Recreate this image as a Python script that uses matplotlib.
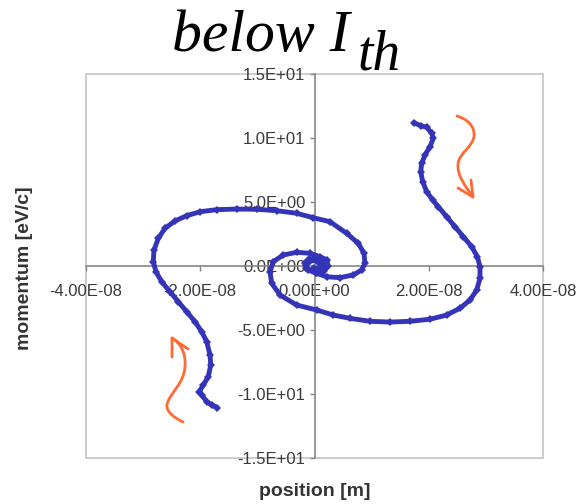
import matplotlib
matplotlib.use("Agg")
import matplotlib.pyplot as plt
from matplotlib.path import Path
from matplotlib.patches import PathPatch, Rectangle
from matplotlib.lines import Line2D

# ---------------- data ----------------
x_unit = 1e-8  # positions below are in units of 1e-8 m

arm1_x = [1.742, 1.859, 1.964, 2.052, 2.080, 2.022, 1.934, 1.877, 1.859, 1.894,
          1.964, 2.069, 2.167, 2.314, 2.459, 2.605, 2.752, 2.850, 2.897, 2.897,
          2.839, 2.722, 2.547, 2.314, 2.022, 1.672, 1.322, 0.972, 0.621, 0.329,
          0.039, -0.312, -0.604, -0.749, -0.779, -0.721, -0.546, -0.312, -0.079, 0.096,
          0.219, 0.236, 0.166, 0.026, -0.114, -0.149, -0.079, 0.026, 0.096]
arm1_y = [11.20, 10.96, 10.84, 10.37, 9.98, 9.32, 8.67, 8.02, 7.37, 6.59,
          5.80, 5.16, 4.63, 3.85, 3.07, 2.29, 1.51, 0.73, -0.05, -0.96,
          -1.88, -2.66, -3.30, -3.83, -4.16, -4.32, -4.38, -4.32, -4.09, -3.83,
          -3.44, -3.05, -2.27, -1.35, -0.45, 0.34, 0.86, 1.07, 0.99, 0.73,
          0.47, 0.00, -0.39, -0.55, -0.31, 0.08, 0.39, 0.43, 0.16]

arm2_x = [-1.701, -1.800, -1.887, -1.975, -2.017, -1.947, -1.859, -1.817, -1.829, -1.887,
          -1.975, -2.092, -2.237, -2.384, -2.530, -2.675, -2.775, -2.822, -2.810, -2.734,
          -2.617, -2.442, -2.237, -2.004, -1.712, -1.362, -1.012, -0.662, -0.312, -0.021,
          0.271, 0.564, 0.767, 0.866, 0.884, 0.826, 0.679, 0.446, 0.214, 0.039,
          -0.149, -0.166, -0.096, 0.026, 0.149, 0.184, 0.096, -0.009]
arm2_y = [-11.07, -10.86, -10.60, -10.08, -9.82, -9.30, -8.65, -7.73, -6.95, -5.91,
          -5.13, -4.35, -3.57, -2.79, -2.01, -1.23, -0.45, 0.34, 1.25, 2.16,
          2.95, 3.52, 3.93, 4.24, 4.40, 4.45, 4.43, 4.32, 4.12, 3.77,
          3.46, 2.55, 1.77, 0.99, 0.21, -0.31, -0.70, -0.91, -0.84, -0.57,
          -0.16, 0.23, 0.55, 0.63, 0.39, 0.00, -0.23, -0.16]

x_ticks = [-4e-8, -2e-8, 0.0, 2e-8, 4e-8]
x_tick_labels = ["-4.00E-08", "-2.00E-08", "0.00E+00", "2.00E-08", "4.00E-08"]
y_ticks = [-15, -10, -5, 0, 5, 10, 15]
y_tick_labels = ["-1.5E+01", "-1.0E+01", "-5.0E+00", "0.0E+00", "5.0E+00", "1.0E+01", "1.5E+01"]

title_main = "below I"
title_sub = "th"
x_label = "position [m]"
y_label = "momentum [eV/c]"

# ---------------- figure ----------------
W, H = 587, 504
plt.rcParams["font.family"] = ["Liberation Sans", "DejaVu Sans"]
fig = plt.figure(figsize=(W / 100, H / 100), dpi=100)
fig.patch.set_facecolor("white")

def fx(px):
    return px / W

def fy(py):
    return 1 - py / H

ax = fig.add_axes([fx(86), fy(458), (543 - 86) / W, (458 - 74) / H])
ax.set_xlim(-4e-8, 4e-8)
ax.set_ylim(-15, 15)
ax.set_facecolor("white")

axis_col = "#868686"
for s in ["top", "right"]:
    ax.spines[s].set_visible(False)
ax.spines["left"].set_position("zero")
ax.spines["bottom"].set_position("zero")
for s in ["left", "bottom"]:
    ax.spines[s].set_color(axis_col)
    ax.spines[s].set_linewidth(1.2)

ax.add_patch(Rectangle((0, 0), 1, 1, transform=ax.transAxes, fill=False,
                       edgecolor="#c4c4c4", linewidth=1.2, clip_on=False, zorder=0.5))

ax.set_xticks(x_ticks)
ax.set_xticklabels(x_tick_labels)
ax.set_yticks(y_ticks)
ax.set_yticklabels(y_tick_labels)
ax.tick_params(axis="x", direction="out", length=3.6, width=1.0, color=axis_col,
               labelsize=12, labelcolor="#3a3a3a", pad=9)
ax.tick_params(axis="y", direction="out", length=3.6, width=1.0, color=axis_col,
               labelsize=12, labelcolor="#3a3a3a", pad=3)

blue = "#3434b8"
for xs, ys in [(arm1_x, arm1_y), (arm2_x, arm2_y)]:
    ax.plot([v * x_unit for v in xs], ys, color=blue, lw=3.5, marker="D",
            markersize=4.5, markeredgewidth=0, solid_joinstyle="round",
            solid_capstyle="round", zorder=3, clip_on=False)

# axis labels
fig.text(fx(25), fy(268), y_label, rotation=90, fontsize=14, fontweight="bold",
         ha="center", va="center", color="#333333")
fig.text(fx(315), fy(492), x_label, fontsize=14, fontweight="bold",
         ha="center", va="center", color="#333333")

# title
fig.text(fx(172), fy(51), title_main, fontsize=43, family="Liberation Serif",
         style="italic", ha="left", va="baseline", color="black")
fig.text(fx(358), fy(69), title_sub, fontsize=40, family="Liberation Serif",
         style="italic", ha="left", va="baseline", color="black")

# orange wavy arrows (decorations, in figure pixel space)
orange = "#ff6a33"

def draw_curve(segments, head):
    verts = [(fx(segments[0][0]), fy(segments[0][1]))]
    codes = [Path.MOVETO]
    for c1, c2, p in segments[1:]:
        for q in (c1, c2, p):
            verts.append((fx(q[0]), fy(q[1])))
            codes.append(Path.CURVE4)
    fig.add_artist(PathPatch(Path(verts, codes), transform=fig.transFigure,
                             fill=False, edgecolor=orange, lw=2.0, capstyle="round"))
    fig.add_artist(Line2D([fx(p[0]) for p in head], [fy(p[1]) for p in head],
                          transform=fig.transFigure, color=orange, lw=2.0,
                          solid_capstyle="round", solid_joinstyle="round"))

draw_curve([(457, 116),
            ((467, 119), (475, 126), (474, 136)),
            ((473, 147), (459, 153), (458, 164)),
            ((457, 176), (466, 187), (473, 197))],
           [(458, 188), (473, 197), (471, 180)])

draw_curve([(183, 422),
            ((175, 418), (166, 412), (167, 405)),
            ((169, 393), (184, 385), (185, 366)),
            ((186, 352), (180, 343), (172, 338))],
           [(172, 357), (172, 338), (188, 349)])

fig.savefig("out.png", dpi=100, facecolor="white")
